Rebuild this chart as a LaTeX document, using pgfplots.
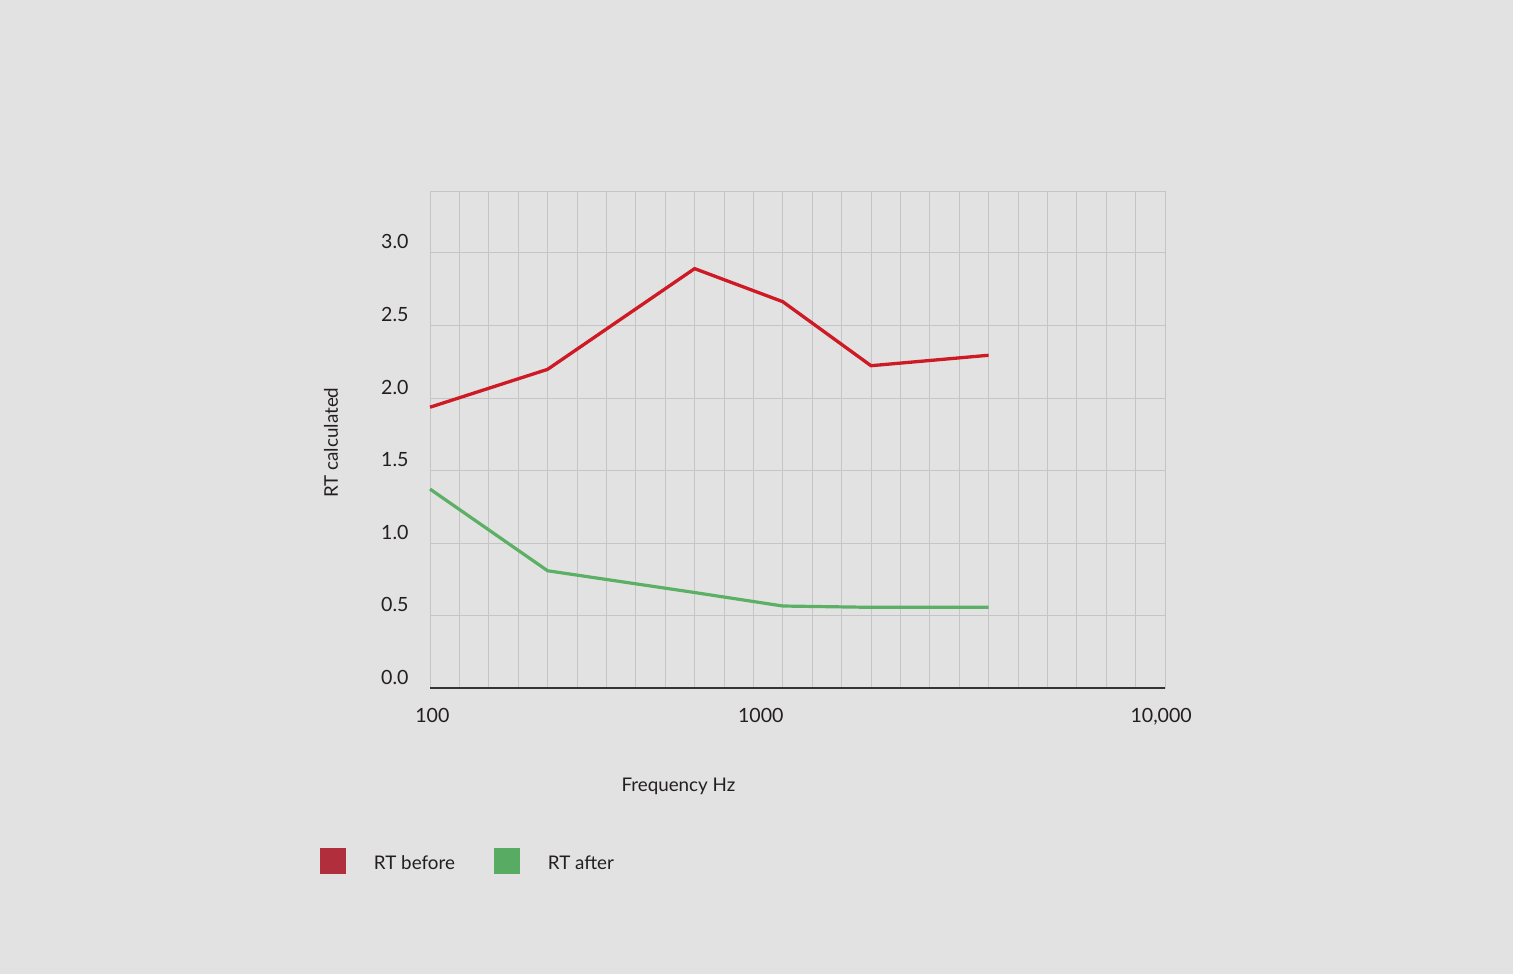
\documentclass[border=0pt]{standalone}
\usepackage{pgfplots}
\pgfplotsset{compat=1.18}
\usepackage{fontspec}
\setmainfont{Lato}
\definecolor{bg}{HTML}{E3E2E2}
\definecolor{gridc}{HTML}{C6C5C5}
\definecolor{axdark}{HTML}{333333}
\definecolor{txt}{HTML}{231F20}
\definecolor{redline}{HTML}{CD1A24}
\definecolor{greenline}{HTML}{5BB065}
\definecolor{legred}{HTML}{B12F3D}
\definecolor{leggreen}{HTML}{58AB62}
\newcommand{\wordfont}{\fontsize{9.4bp}{11.5bp}\selectfont}
\begin{document}
\begin{tikzpicture}
\path[use as bounding box, fill=bg] (0,0) rectangle (756.5bp,487bp);
\begin{axis}[
  at={(215bp,142.85bp)}, anchor=south west,
  scale only axis, width=367.5bp, height=248.5bp,
  xmin=0, xmax=25, ymin=0, ymax=3.425,
  xtick={0.08,11.25,24.87}, xticklabels={100,1000,{10,000}},
  minor xtick={0,1,...,25},
  xminorgrids=true, xmajorgrids=false,
  ytick={0,0.5,1,1.5,2,2.5,3}, yticklabels={0.0,0.5,1.0,1.5,2.0,2.5,3.0},
  ymajorgrids=true,
  major tick length=0pt, minor tick length=0pt,
  tick style={draw=none},
  axis line style={draw=gridc, line width=0.5bp},
  grid style={draw=gridc, line width=0.5bp},
  minor grid style={draw=gridc, line width=0.5bp},
  ticklabel style={font=\fontsize{9.8bp}{12bp}\selectfont, text=txt},
  yticklabel style={anchor=east, inner sep=0pt, xshift=-10.5bp, yshift=5.5bp},
  xticklabel style={anchor=north, inner sep=0pt, yshift=-9.85bp},
  xlabel={Frequency Hz},
  xlabel style={at={(axis description cs:0.338,-0.2072)}, anchor=base, inner sep=0pt, font=\wordfont, text=txt},
  ylabel={RT calculated},
  ylabel style={at={(axis description cs:-0.1252,0.4942)}, anchor=base, rotate=0, inner sep=0pt, font=\wordfont, text=txt},
  clip=false,
  legend columns=2,
  legend image code/.code={\fill[#1] (0bp,-4.7bp) rectangle (13bp,8.3bp);},
  legend style={draw=none, fill=none, inner sep=0pt, outer sep=0pt,
    at={(axis description cs:-0.1497,-0.347)}, anchor=west,
    font=\wordfont, text=txt,
    nodes={inner sep=0pt},
    /tikz/every odd column/.append style={column sep=14bp},
    /tikz/every even column/.append style={column sep=19.5bp}},
  legend cell align=left,
]
\addplot[redline, line width=1.65bp, forget plot] coordinates {
  (0,1.937) (4,2.198) (9,2.892) (12,2.664) (15,2.223) (19,2.295)};
\addplot[greenline, line width=1.6bp, forget plot] coordinates {
  (0,1.373) (4,0.810) (9,0.660) (12,0.567) (15,0.558) (19,0.558)};
\draw[axdark, line width=1bp] (axis cs:0,0) -- (axis cs:25,0);
\addlegendimage{fill=legred, draw=none}
\addlegendentry{RT before}
\addlegendimage{fill=leggreen, draw=none}
\addlegendentry{RT after}
\end{axis}
\end{tikzpicture}
\end{document}
